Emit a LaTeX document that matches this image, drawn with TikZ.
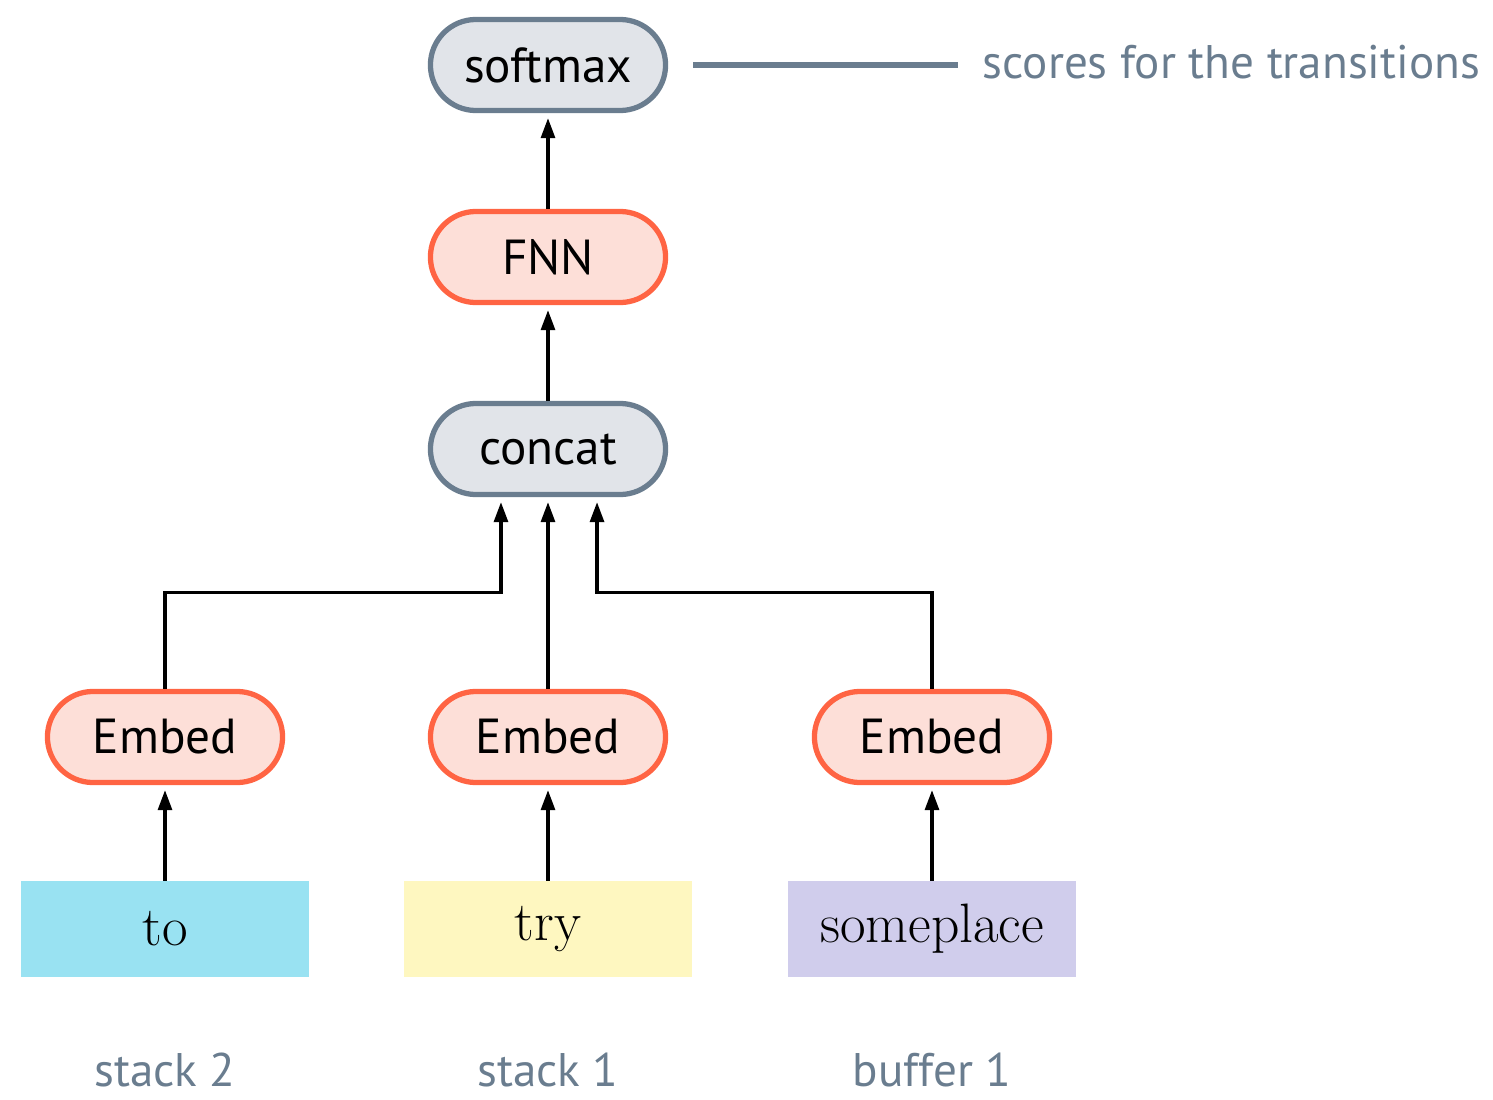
\documentclass[tikz,border=0pt]{standalone}
\usepackage{fontspec}
\setsansfont{PT Sans}
\usepackage{tikz}
\usetikzlibrary{calc,arrows.meta}
\definecolor{slate}{HTML}{6A7D8F}
\definecolor{slatefill}{HTML}{E1E4E9}
\definecolor{coral}{HTML}{FF6443}
\definecolor{coralfill}{HTML}{FDDFD8}
\definecolor{wordcyan}{HTML}{99E2F2}
\definecolor{wordyellow}{HTML}{FEF7C0}
\definecolor{wordlilac}{HTML}{D0CDEC}
\tikzset{
  op/.style={draw=slate,fill=slatefill,line width=1.5pt,rounded corners=0.455cm,
    minimum width=2.35cm,minimum height=0.91cm,inner sep=0pt,
    font=\sffamily\fontsize{14}{16}\selectfont},
  layer/.style={op,draw=coral,fill=coralfill},
  word/.style={minimum width=2.87cm,minimum height=0.95cm,inner sep=0pt,
    font=\rmfamily\fontsize{15.8}{18}\selectfont},
  role/.style={text=slate,font=\sffamily\fontsize{13.4}{16}\selectfont},
  flow/.style={-{Triangle[length=0.2cm,width=0.14cm]},line width=0.9pt,shorten >=0.05cm},
}

\begin{document}
\begin{tikzpicture}[x=0.01cm,y=-0.01cm]
      \useasboundingbox (0,0) rectangle (1493,1100);
      \node[op] (softmax) at (548,65) {softmax};
      \node[layer] (fnn) at (548,257) {FNN};
      \node[op] (concat) at (548,449) {concat};
      \node[layer] (emb1) at (165,737) {Embed};
      \node[layer] (emb2) at (548,737) {Embed};
      \node[layer] (emb3) at (932,737) {Embed};
      \node[word,fill=wordcyan] (to) at (165,929) {to};
      \node[word,fill=wordyellow] (try) at (548,929) {try};
      \node[word,fill=wordlilac] (someplace) at (932,929) {someplace};
      \node[role] (stack2) at (165,1070) {stack 2};
      \node[role] (stack1) at (548,1070) {stack 1};
      \node[role] (buffer1) at (932,1070) {buffer 1};
      \node[role,anchor=west,inner sep=0pt] (scores) at (982,62) {scores for the transitions};
      \draw[slate,line width=1.5pt] ([xshift=0.25cm]softmax.east) -- ([xshift=-0.24cm]scores.west |- softmax.east);
      % words into embeddings
      \draw[flow] (to) -- (emb1);
      \draw[flow] (try) -- (emb2);
      \draw[flow] (someplace) -- (emb3);
      % embeddings into concat
      \draw[flow] (emb1.north) -- ++(0,-96) -| ([xshift=-0.47cm]concat.south);
      \draw[flow] (emb2) -- (concat);
      \draw[flow] (emb3.north) -- ++(0,-96) -| ([xshift=0.49cm]concat.south);
      \draw[flow] (concat) -- (fnn);
      \draw[flow] (fnn) -- (softmax);
    \end{tikzpicture}
\end{document}
